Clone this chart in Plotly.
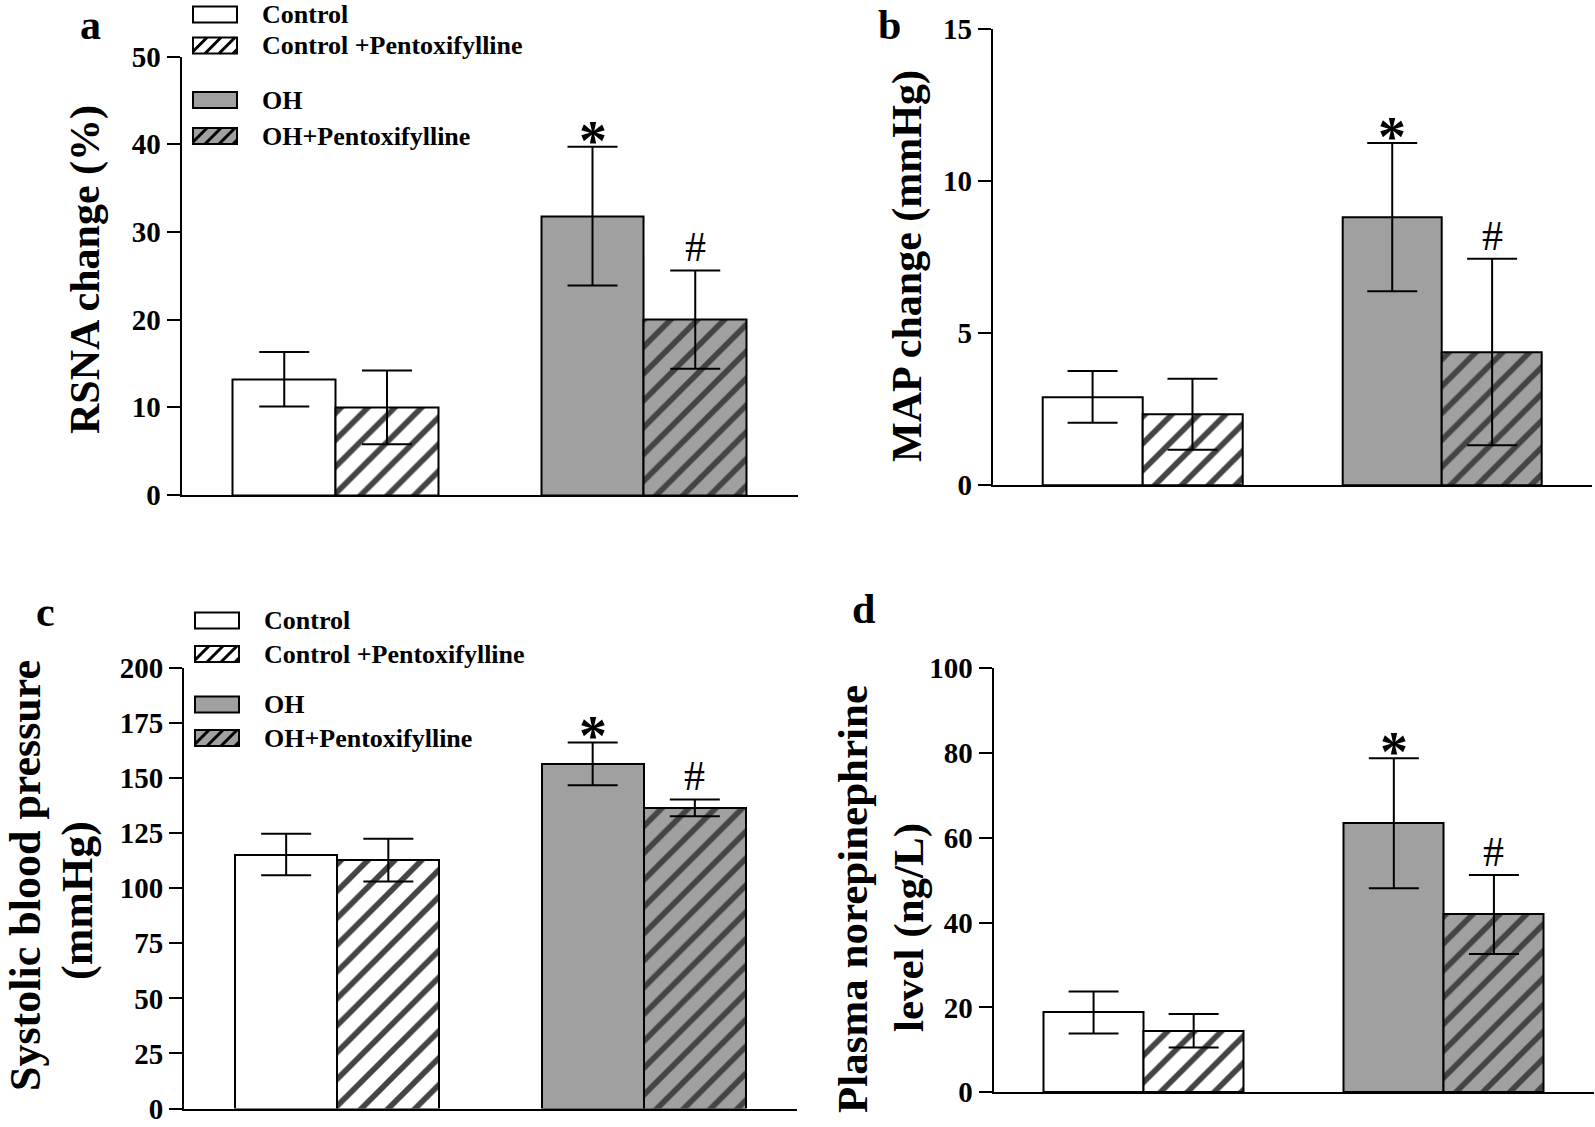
import plotly.graph_objects as go

W, H = 1595, 1127

# ---------------- data ----------------
groups = ["Control", "Control +Pentoxifylline", "OH", "OH+Pentoxifylline"]
xpos = [0, 1, 3, 4]

rsna_mean = [13.2, 10.0, 31.8, 20.0]
rsna_sem = [3.1, 4.2, 7.9, 5.6]

map_mean = [2.9, 2.33, 8.82, 4.38]
map_sem = [0.85, 1.17, 2.44, 3.07]

sbp_mean = [115.3, 112.8, 156.5, 136.5]
sbp_sem = [9.4, 9.7, 9.7, 3.8]

ne_mean = [18.8, 14.5, 63.4, 41.9]
ne_sem = [4.95, 3.95, 15.35, 9.3]

rsna_ticks = [0, 10, 20, 30, 40, 50]
map_ticks = [0, 5, 10, 15]
sbp_ticks = [0, 25, 50, 75, 100, 125, 150, 175, 200]
ne_ticks = [0, 20, 40, 60, 80, 100]

# ---------------- styles ----------------
GRAY = "#a0a0a0"
fills = ["white", "white", GRAY, GRAY]
shapes_pat = ["", "/", "", "/"]
SERIF = "Liberation Serif, Times New Roman, serif"


def px(x):
    return x / W


def py(y):
    return 1 - y / H


panels = [
    dict(mean=rsna_mean, sem=rsna_sem, ticks=rsna_ticks, xd=(181.5, 798), yd=(495, 56.5),
         titles=[("RSNA change (%)", 85, 270, 42)],
         letter="a", lpos=(90, 0), legend=True, leg_x=193, leg_rows=[14.5, 45.5, 100, 136]),
    dict(mean=map_mean, sem=map_sem, ticks=map_ticks, xd=(992.7, 1592), yd=(485, 29.3),
         titles=[("MAP change (mmHg)", 907, 266, 42)],
         letter="b", lpos=(889, 0), legend=False),
    dict(mean=sbp_mean, sem=sbp_sem, ticks=sbp_ticks, xd=(184, 797), yd=(1108.5, 668),
         titles=[("Systolic blood pressure", 25, 876, 44), ("(mmHg)", 77, 901, 44)],
         letter="c", lpos=(45, 587), legend=True, leg_x=195, leg_rows=[620.5, 654, 704.5, 738]),
    dict(mean=ne_mean, sem=ne_sem, ticks=ne_ticks, xd=(993.5, 1594), yd=(1092.2, 668),
         titles=[("Plasma norepinephrine", 852, 899, 43), ("level (ng/L)", 909, 928, 43)],
         letter="d", lpos=(864, 584), legend=False),
]

fig = go.Figure()
annotations = []
shapes = []

for i, p in enumerate(panels):
    n = "" if i == 0 else str(i + 1)
    xa, ya = "x" + n, "y" + n
    fig.add_trace(go.Bar(
        x=xpos, y=p["mean"], width=1, xaxis=xa, yaxis=ya,
        marker=dict(color=fills, line=dict(color="black", width=2),
                    pattern=dict(shape=shapes_pat, fgcolor="black",
                                 fillmode="overlay", fgopacity=1,
                                 size=19, solidity=0.3)),
        error_y=dict(type="data", array=p["sem"], symmetric=True, color="black",
                     thickness=2, width=25),
        showlegend=False, hoverinfo="skip",
    ))
    top = p["ticks"][-1]
    fig.layout["xaxis" + n] = dict(
        domain=[px(p["xd"][0]), px(p["xd"][1])], range=[-1, 5], anchor=ya,
        showline=True, linecolor="black", linewidth=2, ticks="", showticklabels=False,
        showgrid=False, zeroline=False, fixedrange=True, automargin=False)
    fig.layout["yaxis" + n] = dict(
        domain=[py(p["yd"][0]), py(p["yd"][1])], range=[0, top], anchor=xa,
        showline=True, linecolor="black", linewidth=2, ticks="outside", ticklen=13,
        tickwidth=2, tickcolor="black", tickvals=p["ticks"], ticklabeloverflow="allow",
        tickfont=dict(family=SERIF, size=29, color="black", weight="bold"),
        showgrid=False, zeroline=False, fixedrange=True, automargin=False)

    # significance marks
    annotations.append(dict(xref=xa, yref=ya, x=xpos[2], y=p["mean"][2] + p["sem"][2],
                            text="*", showarrow=False, yanchor="bottom", yshift=-27,
                            font=dict(family=SERIF, size=56, color="black", weight="bold")))
    annotations.append(dict(xref=xa, yref=ya, x=xpos[3], y=p["mean"][3] + p["sem"][3],
                            text="#", showarrow=False, yanchor="bottom", yshift=-2,
                            font=dict(family=SERIF, size=42, color="black")))
    # y titles
    for txt, tx, ty, ts in p["titles"]:
        annotations.append(dict(xref="paper", yref="paper", x=px(tx), y=py(ty),
                                text=txt, textangle=-90, showarrow=False,
                                xanchor="center", yanchor="middle",
                                font=dict(family=SERIF, size=ts, color="black", weight="bold")))
    # panel letter
    annotations.append(dict(xref="paper", yref="paper", x=px(p["lpos"][0]), y=py(p["lpos"][1]),
                            text=p["letter"], showarrow=False, xanchor="center", yanchor="top",
                            font=dict(family=SERIF, size=42, color="black", weight="bold")))

    # legend
    if p["legend"]:
        sw, sh = 44, 16
        x0 = p["leg_x"]
        for g, fc, hat, yc in zip(groups, fills, shapes_pat, p["leg_rows"]):
            y0, y1 = yc - sh / 2, yc + sh / 2
            shapes.append(dict(type="rect", xref="paper", yref="paper",
                               x0=px(x0), x1=px(x0 + sw), y0=py(y1), y1=py(y0),
                               fillcolor=fc, line=dict(color="black", width=2)))
            if hat:
                step = 14
                c = -sh
                while c < sw:
                    ax, ay = x0 + c, y1
                    bx, by = x0 + c + sh, y0
                    if ax < x0:
                        ay = ay - (x0 - ax)
                        ax = x0
                    if bx > x0 + sw:
                        by = by + (bx - (x0 + sw))
                        bx = x0 + sw
                    if bx > ax:
                        shapes.append(dict(type="line", xref="paper", yref="paper",
                                           x0=px(ax), y0=py(ay), x1=px(bx), y1=py(by),
                                           line=dict(color="black", width=3)))
                    c += step
            annotations.append(dict(xref="paper", yref="paper", x=px(x0 + 67), y=py(yc),
                                    text=g, showarrow=False, xanchor="left", yanchor="middle",
                                    font=dict(family=SERIF, size=26, color="black", weight="bold")))

fig.update_layout(
    template="none",
    width=W, height=H, autosize=False,
    margin=dict(l=0, r=0, t=0, b=0, pad=0),
    paper_bgcolor="white", plot_bgcolor="white",
    annotations=annotations, shapes=shapes,
    bargap=0, showlegend=False,
)

fig.write_html("out.html", config={"displayModeBar": False},
               post_script="document.body.style.margin='0';document.body.style.overflow='hidden';")
